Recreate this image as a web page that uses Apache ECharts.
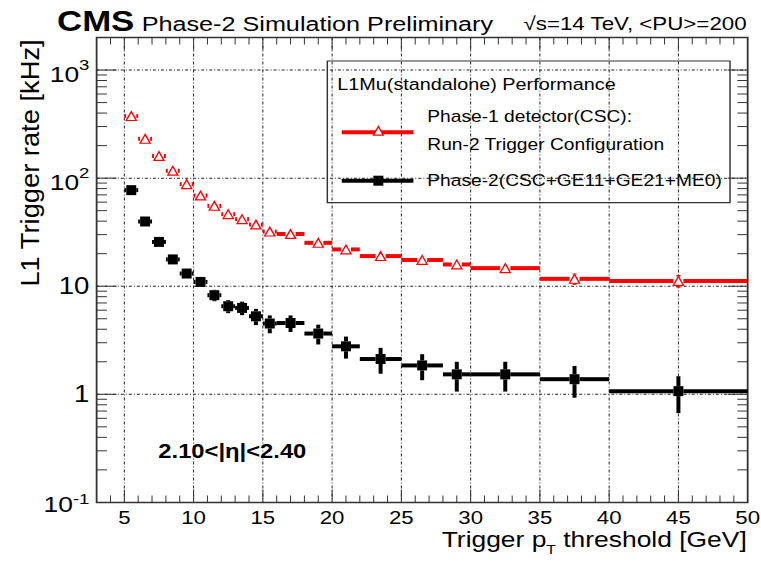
<!DOCTYPE html>
<html>
<head>
<meta charset="utf-8">
<script src="https://cdn.jsdelivr.net/npm/echarts@6/dist/echarts.min.js"></script>
<style>
  html, body { margin: 0; padding: 0; background: #fff; overflow: hidden; }
  /* The chart is laid out in a narrower box and widened, which gives the wide lettering of the plot. */
  #chart { width: 634px; height: 563px; transform: scaleX(1.20032); transform-origin: 0 0; }
</style>
</head>
<body>
<div id="chart"></div>
<script>
// Trigger pT threshold bins [GeV]
const binLow  = [5, 6, 7, 8, 9, 10, 11, 12, 13, 14, 15, 16, 18, 20, 22, 25, 28, 30, 35, 40];
const binHigh = [6, 7, 8, 9, 10, 11, 12, 13, 14, 15, 16, 18, 20, 22, 25, 28, 30, 35, 40, 50];

// Phase-1 detector (CSC), Run-2 trigger configuration: L1 rate [kHz]
const phase1Rate = [375, 231, 160, 117, 88, 69, 55.4, 46.4, 41.7, 37.2, 32.0, 30.4, 25.2, 21.9, 19.0, 17.5, 15.9, 14.7, 11.7, 11.2];
const phase1Err  = [8, 6, 5, 4, 3.4, 3, 2.6, 2.4, 2.2, 2.1, 1.9, 1.4, 1.3, 1.2, 1.0, 1.0, 1.0, 0.8, 1.4, 1.5];

// Phase-2 (CSC+GE11+GE21+ME0): L1 rate [kHz]
const phase2Rate = [77.4, 39.7, 25.7, 17.7, 13.1, 10.96, 8.26, 6.53, 6.3, 5.27, 4.52, 4.57, 3.65, 2.78, 2.12, 1.85, 1.53, 1.53, 1.38, 1.07];
const phase2Err  = [2.5, 1.8, 1.4, 1.2, 1.05, 0.95, 1.0, 0.9, 0.9, 0.9, 0.85, 0.8, 0.76, 0.64, 0.57, 0.5, 0.47, 0.47, 0.45, 0.4];

// Axis ranges and ticks
const X_MIN = 3, X_MAX = 50, Y_MIN = 0.1, Y_MAX = 2000;
const xMajorTicks = [5, 10, 15, 20, 25, 30, 35, 40, 45, 50];
const yDecades = [0.1, 1, 10, 100, 1000];
// decades written as powers of ten (value, exponent text)
const yPowerLabels = [[1000, '3'], [100, '2'], [0.1, '-1']];

const SX = 761 / 634;          // horizontal widening of the page
const FONT = '"Liberation Sans", Arial, Helvetica, sans-serif';
const RED = '#ff0000', BLACK = '#000000', FRAME = '#333333', GRID = '#222222';
const MANT_SIZE = 22, EXP_SIZE = 15.5, LABEL_GAP = 6;

function binPoints(rates, errs) {
  return rates.map((r, i) => [(binLow[i] + binHigh[i]) / 2, r, binLow[i], binHigh[i], errs[i]]);
}

// ROOT-style histogram points: bin-width bar, vertical error, marker on top
function binSeries(name, rates, errs, color, marker, z) {
  return {
    type: 'custom', name: name, z: z, clip: false,
    data: binPoints(rates, errs),
    encode: { x: 0, y: 1 },
    renderItem: function (params, api) {
      const xc = api.value(0), y = api.value(1), lo = api.value(2), hi = api.value(3), e = api.value(4);
      const c = api.coord([xc, y]);
      const l = api.coord([lo, y]), r = api.coord([hi, y]);
      const top = api.coord([xc, y + e]), bot = api.coord([xc, y - e]);
      const mw = marker === 'triangle' ? 8.4 : 8.3;
      const mh = marker === 'triangle' ? 8.8 : 10;
      const gx = mw / 2, gy = mh / 2;
      const hStyle = { stroke: color, lineWidth: 4, lineCap: 'butt' };
      const vStyle = { stroke: color, lineWidth: 4 / SX, lineCap: 'butt' };
      const kids = [];
      if (c[0] - gx > l[0]) kids.push({ type: 'line', shape: { x1: l[0], y1: c[1], x2: c[0] - gx, y2: c[1] }, style: hStyle });
      if (r[0] > c[0] + gx) kids.push({ type: 'line', shape: { x1: c[0] + gx, y1: c[1], x2: r[0], y2: c[1] }, style: hStyle });
      if (top[1] < c[1] - gy) kids.push({ type: 'line', shape: { x1: c[0], y1: c[1] - gy, x2: c[0], y2: top[1] }, style: vStyle });
      if (bot[1] > c[1] + gy) kids.push({ type: 'line', shape: { x1: c[0], y1: c[1] + gy, x2: c[0], y2: bot[1] }, style: vStyle });
      if (marker === 'triangle') {
        kids.push({ type: 'polygon', shape: { points: [[c[0], c[1] - mh / 2], [c[0] - mw / 2, c[1] + mh / 2], [c[0] + mw / 2, c[1] + mh / 2]] },
          style: { fill: '#ffffff', stroke: color, lineWidth: 1.2 } });
      } else {
        kids.push({ type: 'rect', shape: { x: c[0] - mw / 2, y: c[1] - mh / 2, width: mw, height: mh }, style: { fill: color } });
      }
      return { type: 'group', children: kids };
    }
  };
}

// Dotted grid at the labelled ticks
const gridItems = [];
xMajorTicks.forEach(v => { if (v < X_MAX) gridItems.push([0, v]); });
yDecades.forEach(v => { if (v > Y_MIN) gridItems.push([1, v]); });

// Tick marks on all four sides of the frame (ROOT style, pointing inward)
const tickItems = [];
for (let v = X_MIN + 1; v < X_MAX; v++) tickItems.push([0, v, xMajorTicks.indexOf(v) >= 0 ? 1 : 0]);
yDecades.forEach(d => {
  for (let m = 1; m <= 9; m++) {
    const v = m * d;
    if (v > Y_MIN && v < Y_MAX) tickItems.push([1, v, m === 1 ? 1 : 0]);
  }
});

// Plain decade labels on the axis; the powers of ten are set as text with a raised exponent
function yLabel(v) {
  const lg = Math.log10(v);
  const e = Math.round(lg);
  if (Math.abs(lg - e) > 1e-6) return '';
  if (e === 0) return '1';
  if (e === 1) return '10';
  return '';
}

const chart = echarts.init(document.getElementById('chart'), null, { renderer: 'svg', width: 634, height: 563 });

chart.setOption({
  backgroundColor: '#ffffff',
  animation: false,
  grid: {
    left: 80.5, right: 11.1, top: 37.5, bottom: 60.6,
    show: true, borderColor: FRAME, borderWidth: 1.5, backgroundColor: 'transparent',
    containLabel: false, outerBoundsMode: 'none'
  },
  xAxis: {
    type: 'value', min: X_MIN, max: X_MAX, interval: 1,
    axisLine: { show: false }, axisTick: { show: false }, splitLine: { show: false },
    axisLabel: {
      margin: 6, color: '#000', fontFamily: FONT, fontSize: 18.5, lineHeight: 19,
      showMinLabel: true, showMaxLabel: true,
      formatter: v => (xMajorTicks.indexOf(v) >= 0 ? String(v) : '')
    }
  },
  yAxis: {
    type: 'log', logBase: 10, min: Y_MIN, max: Y_MAX,
    axisLine: { show: false }, axisTick: { show: false }, splitLine: { show: false }, minorTick: { show: false },
    axisLabel: {
      margin: LABEL_GAP, color: '#000', fontFamily: FONT, fontSize: 23, lineHeight: 24,
      showMinLabel: true, showMaxLabel: true,
      formatter: yLabel
    }
  },
  series: [
    {
      type: 'custom', name: 'grid', z: 1, clip: false, silent: true,
      data: gridItems, encode: { x: 1, y: 1 },
      renderItem: function (params, api) {
        const cs = params.coordSys;
        const kind = api.value(0), v = api.value(1);
        if (kind === 0) {
          const x = api.coord([v, Y_MIN])[0];
          return { type: 'line', shape: { x1: x, y1: cs.y, x2: x, y2: cs.y + cs.height },
            style: { stroke: GRID, lineWidth: 1 / SX, lineDash: [3, 2, 1, 2] } };
        }
        const y = api.coord([X_MIN, v])[1];
        return { type: 'line', shape: { x1: cs.x, y1: y, x2: cs.x + cs.width, y2: y },
          style: { stroke: GRID, lineWidth: 1, lineDash: [2.5, 1.7, 0.8, 1.7] } };
      }
    },
    binSeries('Phase-1 detector(CSC): Run-2 Trigger Configuration', phase1Rate, phase1Err, RED, 'triangle', 5),
    binSeries('Phase-2(CSC+GE11+GE21+ME0)', phase2Rate, phase2Err, BLACK, 'square', 6),
    {
      type: 'custom', name: 'ticks', z: 7, clip: false, silent: true,
      data: tickItems, encode: { x: 1, y: 1 },
      renderItem: function (params, api) {
        const cs = params.coordSys;
        const kind = api.value(0), v = api.value(1), major = api.value(2) === 1;
        const st = { stroke: FRAME, lineWidth: 1 };
        if (kind === 0) {
          const x = api.coord([v, Y_MIN])[0];
          const len = major ? 13 : 7;
          return { type: 'group', children: [
            { type: 'line', shape: { x1: x, y1: cs.y + cs.height, x2: x, y2: cs.y + cs.height - len }, style: { stroke: FRAME, lineWidth: 1 / SX } },
            { type: 'line', shape: { x1: x, y1: cs.y, x2: x, y2: cs.y + len }, style: { stroke: FRAME, lineWidth: 1 / SX } }
          ] };
        }
        const y = api.coord([X_MIN, v])[1];
        const len = major ? 16.7 : 8.6;
        return { type: 'group', children: [
          { type: 'line', shape: { x1: cs.x, y1: y, x2: cs.x + len, y2: y }, style: st },
          { type: 'line', shape: { x1: cs.x + cs.width, y1: y, x2: cs.x + cs.width - len, y2: y }, style: st }
        ] };
      }
    }
  ]
});

// Power-of-ten tick labels: mantissa and raised exponent, placed at their decades
const measureCtx = document.createElement('canvas').getContext('2d');
measureCtx.font = EXP_SIZE + 'px ' + FONT;
const powerLabels = [];
yPowerLabels.forEach(function (item) {
  const p = chart.convertToPixel({ gridIndex: 0 }, [X_MIN, item[0]]);
  const low = item[0] < 1;
  const expW = measureCtx.measureText(item[1]).width;
  const xJoin = p[0] - LABEL_GAP - expW;
  powerLabels.push({
    type: 'text', x: xJoin, y: p[1] + (low ? 2 : 4), z: 20,
    style: { text: '10', fontFamily: FONT, fontSize: MANT_SIZE, fill: '#000', align: 'right', verticalAlign: 'middle' }
  });
  powerLabels.push({
    type: 'text', x: xJoin, y: p[1] + (low ? -3 : -5), z: 20,
    style: { text: item[1], fontFamily: FONT, fontSize: EXP_SIZE, fill: '#000', align: 'left', verticalAlign: 'middle' }
  });
});

chart.setOption({
  graphic: powerLabels.concat([
    // header line
    { type: 'text', x: 47.5, y: 21, z: 20,
      style: { text: 'CMS', fontFamily: FONT, fontWeight: 'bold', fontSize: 29, fill: '#000', align: 'left', verticalAlign: 'middle' } },
    { type: 'text', x: 118, y: 24, z: 20,
      style: { text: 'Phase-2 Simulation Preliminary', fontFamily: FONT, fontSize: 21, fill: '#000', align: 'left', verticalAlign: 'middle' } },
    { type: 'text', x: 622, y: 23.5, z: 20,
      style: { text: '\u221As=14 TeV, <PU>=200', fontFamily: FONT, fontSize: 18.6, fill: '#000', align: 'right', verticalAlign: 'middle' } },

    // axis titles
    { type: 'text', x: 622.1, y: 528.2, z: 20,
      style: {
        text: '{a|Trigger p}{t|T}{a| threshold [GeV]}', align: 'right', verticalAlign: 'top', fill: '#000',
        rich: {
          a: { fontFamily: FONT, fontSize: 22, lineHeight: 22, verticalAlign: 'top', fill: '#000' },
          t: { fontFamily: FONT, fontSize: 13, lineHeight: 13, padding: [15, 0, 0, 0], verticalAlign: 'top', fill: '#000' }
        }
      } },
    { type: 'text', x: 25, y: 163, rotation: Math.PI / 2, scaleX: 1.3, z: 20,
      style: { text: 'L1 Trigger rate [kHz]', fontFamily: FONT, fontSize: 21, fill: '#000', align: 'center', verticalAlign: 'middle' } },

    // pseudorapidity range
    { type: 'text', x: 131.9, y: 451.5, z: 20,
      style: { text: '2.10<|\u03B7|<2.40', fontFamily: FONT, fontWeight: 'bold', fontSize: 19.8, fill: '#000', align: 'left', verticalAlign: 'middle' } },

    // legend box
    { type: 'group', z: 30, children: [
      { type: 'rect', shape: { x: 272.7, y: 61, width: 335.5, height: 141.7 }, style: { fill: '#ffffff', stroke: FRAME, lineWidth: 1.2 } },
      { type: 'text', x: 281, y: 84.3,
        style: { text: 'L1Mu(standalone) Performance', fontFamily: FONT, fontSize: 16.5, fill: '#000', align: 'left', verticalAlign: 'middle' } },
      { type: 'line', shape: { x1: 284.7, y1: 132.3, x2: 344.4, y2: 132.3 }, style: { stroke: RED, lineWidth: 4 } },
      { type: 'polygon', shape: { points: [[315.2, 126.5], [311.1, 135.1], [319.3, 135.1]] }, style: { fill: '#fff', stroke: RED, lineWidth: 1.2 } },
      { type: 'text', x: 356, y: 116.7,
        style: { text: 'Phase-1 detector(CSC):', fontFamily: FONT, fontSize: 16, fill: '#000', align: 'left', verticalAlign: 'middle' } },
      { type: 'text', x: 356, y: 145,
        style: { text: 'Run-2 Trigger Configuration', fontFamily: FONT, fontSize: 16, fill: '#000', align: 'left', verticalAlign: 'middle' } },
      { type: 'line', shape: { x1: 284.7, y1: 180.7, x2: 344.4, y2: 180.7 }, style: { stroke: BLACK, lineWidth: 4 } },
      { type: 'rect', shape: { x: 311.05, y: 175.7, width: 8.3, height: 10 }, style: { fill: BLACK } },
      { type: 'text', x: 356, y: 180.7,
        style: { text: 'Phase-2(CSC+GE11+GE21+ME0)', fontFamily: FONT, fontSize: 16, fill: '#000', align: 'left', verticalAlign: 'middle' } }
    ] }
  ])
});
</script>
</body>
</html>
